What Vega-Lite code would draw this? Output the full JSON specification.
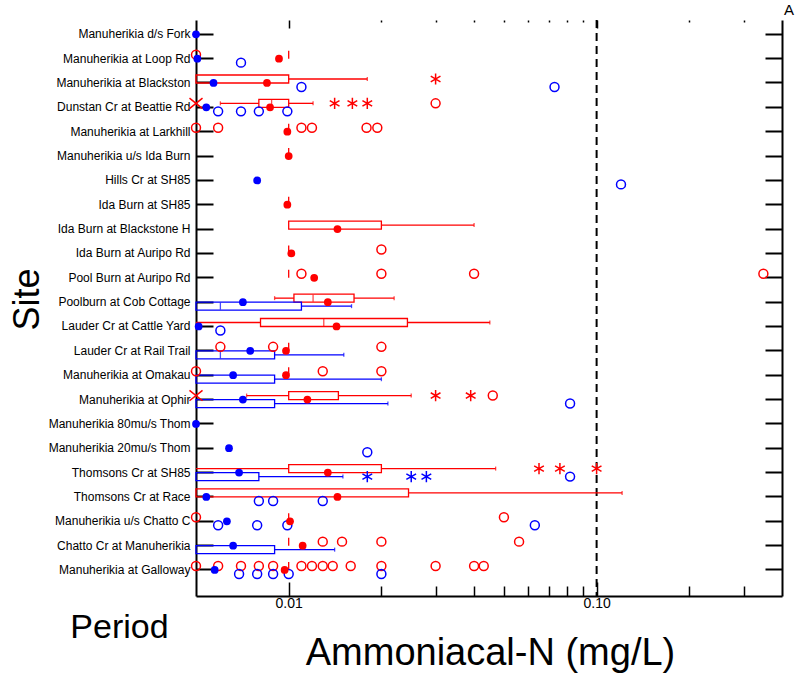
{
"$schema": "https://vega.github.io/schema/vega-lite/v6.json",
"width": 586, "height": 576,
"autosize": "none",
"padding": {"left": 196, "top": 20, "right": 13, "bottom": 79},
"title": {"text": "A", "anchor": "end", "dx": 11, "dy": 15, "offset": 1, "baseline": "bottom", "fontSize": 15, "fontWeight": "normal", "font": "Liberation Sans", "color": "black"},
"config": {"view": {"stroke": null}, "font": "Liberation Sans", "axis": {"grid": false, "domainColor": "black", "tickColor": "black", "labelColor": "black", "titleColor": "black", "zindex": 1}},
"datasets": {
"boxes": [
{"site": "Manuherikia at Loop Rd", "period": "P1", "low": 0.01, "q1": 0.01, "med": null, "q3": 0.01, "high": 0.01},
{"site": "Manuherikia at Blackston", "period": "P1", "low": 0.005, "q1": 0.005, "med": null, "q3": 0.01, "high": 0.018},
{"site": "Dunstan Cr at Beattie Rd", "period": "P1", "low": 0.006, "q1": 0.008, "med": 0.0088, "q3": 0.01, "high": 0.012},
{"site": "Manuherikia at Larkhill", "period": "P1", "low": 0.01, "q1": 0.01, "med": null, "q3": 0.01, "high": 0.01},
{"site": "Manuherikia u/s Ida Burn", "period": "P1", "low": 0.01, "q1": 0.01, "med": null, "q3": 0.01, "high": 0.01},
{"site": "Ida Burn at SH85", "period": "P1", "low": 0.01, "q1": 0.01, "med": null, "q3": 0.01, "high": 0.01},
{"site": "Ida Burn at Blackstone H", "period": "P1", "low": 0.01, "q1": 0.01, "med": null, "q3": 0.02, "high": 0.04},
{"site": "Ida Burn at Auripo Rd", "period": "P1", "low": 0.01, "q1": 0.01, "med": null, "q3": 0.01, "high": 0.01},
{"site": "Pool Burn at Auripo Rd", "period": "P1", "low": 0.01, "q1": 0.01, "med": null, "q3": 0.01, "high": 0.01},
{"site": "Poolburn at Cob Cottage", "period": "P1", "low": 0.009, "q1": 0.0104, "med": 0.012, "q3": 0.0163, "high": 0.022},
{"site": "Poolburn at Cob Cottage", "period": "P2", "low": 0.005, "q1": 0.005, "med": 0.006, "q3": 0.011, "high": 0.016},
{"site": "Lauder Cr at Cattle Yard", "period": "P1", "low": 0.005, "q1": 0.0081, "med": 0.013, "q3": 0.0243, "high": 0.045},
{"site": "Lauder Cr at Rail Trail", "period": "P1", "low": 0.01, "q1": 0.01, "med": null, "q3": 0.01, "high": 0.01},
{"site": "Lauder Cr at Rail Trail", "period": "P2", "low": 0.005, "q1": 0.005, "med": 0.006, "q3": 0.009, "high": 0.0151},
{"site": "Manuherikia at Omakau", "period": "P1", "low": 0.01, "q1": 0.01, "med": null, "q3": 0.01, "high": 0.01},
{"site": "Manuherikia at Omakau", "period": "P2", "low": 0.005, "q1": 0.005, "med": null, "q3": 0.009, "high": 0.02},
{"site": "Manuherikia at Ophir", "period": "P1", "low": 0.0073, "q1": 0.01, "med": null, "q3": 0.0145, "high": 0.025},
{"site": "Manuherikia at Ophir", "period": "P2", "low": 0.005, "q1": 0.005, "med": null, "q3": 0.009, "high": 0.021},
{"site": "Thomsons Cr at SH85", "period": "P1", "low": 0.005, "q1": 0.01, "med": null, "q3": 0.02, "high": 0.047},
{"site": "Thomsons Cr at SH85", "period": "P2", "low": 0.005, "q1": 0.005, "med": null, "q3": 0.008, "high": 0.015},
{"site": "Thomsons Cr at Race", "period": "P1", "low": 0.005, "q1": 0.005, "med": null, "q3": 0.0245, "high": 0.121},
{"site": "Manuherikia u/s Chatto C", "period": "P1", "low": 0.01, "q1": 0.01, "med": null, "q3": 0.01, "high": 0.01},
{"site": "Chatto Cr at Manuherikia", "period": "P1", "low": 0.01, "q1": 0.01, "med": null, "q3": 0.01, "high": 0.01},
{"site": "Chatto Cr at Manuherikia", "period": "P2", "low": 0.005, "q1": 0.005, "med": null, "q3": 0.009, "high": 0.0141},
{"site": "Manuherikia at Galloway", "period": "P1", "low": 0.01, "q1": 0.01, "med": null, "q3": 0.01, "high": 0.01}
],
"means": [
{"site": "Manuherikia d/s Fork", "period": "P2", "value": 0.005},
{"site": "Manuherikia at Loop Rd", "period": "P1", "value": 0.0093},
{"site": "Manuherikia at Loop Rd", "period": "P2", "value": 0.00505},
{"site": "Manuherikia at Blackston", "period": "P1", "value": 0.0085},
{"site": "Manuherikia at Blackston", "period": "P2", "value": 0.0057},
{"site": "Dunstan Cr at Beattie Rd", "period": "P1", "value": 0.0087},
{"site": "Dunstan Cr at Beattie Rd", "period": "P2", "value": 0.0054},
{"site": "Manuherikia at Larkhill", "period": "P1", "value": 0.0099},
{"site": "Manuherikia u/s Ida Burn", "period": "P1", "value": 0.01},
{"site": "Hills Cr at SH85", "period": "P2", "value": 0.0079},
{"site": "Ida Burn at SH85", "period": "P1", "value": 0.0099},
{"site": "Ida Burn at Blackstone H", "period": "P1", "value": 0.0144},
{"site": "Ida Burn at Auripo Rd", "period": "P1", "value": 0.0102},
{"site": "Pool Burn at Auripo Rd", "period": "P1", "value": 0.0121},
{"site": "Poolburn at Cob Cottage", "period": "P1", "value": 0.0134},
{"site": "Poolburn at Cob Cottage", "period": "P2", "value": 0.0071},
{"site": "Lauder Cr at Cattle Yard", "period": "P1", "value": 0.0143},
{"site": "Lauder Cr at Cattle Yard", "period": "P2", "value": 0.0051},
{"site": "Lauder Cr at Rail Trail", "period": "P1", "value": 0.0098},
{"site": "Lauder Cr at Rail Trail", "period": "P2", "value": 0.0075},
{"site": "Manuherikia at Omakau", "period": "P1", "value": 0.0098},
{"site": "Manuherikia at Omakau", "period": "P2", "value": 0.0066},
{"site": "Manuherikia at Ophir", "period": "P1", "value": 0.0115},
{"site": "Manuherikia at Ophir", "period": "P2", "value": 0.0071},
{"site": "Manuherikia 80mu/s Thom", "period": "P2", "value": 0.005},
{"site": "Manuherikia 20mu/s Thom", "period": "P2", "value": 0.0064},
{"site": "Thomsons Cr at SH85", "period": "P1", "value": 0.0134},
{"site": "Thomsons Cr at SH85", "period": "P2", "value": 0.0069},
{"site": "Thomsons Cr at Race", "period": "P1", "value": 0.0144},
{"site": "Thomsons Cr at Race", "period": "P2", "value": 0.0054},
{"site": "Manuherikia u/s Chatto C", "period": "P1", "value": 0.0101},
{"site": "Manuherikia u/s Chatto C", "period": "P2", "value": 0.0063},
{"site": "Chatto Cr at Manuherikia", "period": "P1", "value": 0.0111},
{"site": "Chatto Cr at Manuherikia", "period": "P2", "value": 0.0066},
{"site": "Manuherikia at Galloway", "period": "P1", "value": 0.0097},
{"site": "Manuherikia at Galloway", "period": "P2", "value": 0.00575}
],
"points": [
{"site": "Manuherikia at Loop Rd", "period": "P1", "value": 0.005, "kind": "o"},
{"site": "Manuherikia at Loop Rd", "period": "P2", "value": 0.007, "kind": "o"},
{"site": "Manuherikia at Blackston", "period": "P1", "value": 0.03, "kind": "e"},
{"site": "Manuherikia at Blackston", "period": "P2", "value": 0.011, "kind": "o"},
{"site": "Manuherikia at Blackston", "period": "P2", "value": 0.073, "kind": "o"},
{"site": "Dunstan Cr at Beattie Rd", "period": "P1", "value": 0.005, "kind": "b"},
{"site": "Dunstan Cr at Beattie Rd", "period": "P1", "value": 0.0141, "kind": "e"},
{"site": "Dunstan Cr at Beattie Rd", "period": "P1", "value": 0.0161, "kind": "e"},
{"site": "Dunstan Cr at Beattie Rd", "period": "P1", "value": 0.018, "kind": "e"},
{"site": "Dunstan Cr at Beattie Rd", "period": "P1", "value": 0.03, "kind": "o"},
{"site": "Dunstan Cr at Beattie Rd", "period": "P2", "value": 0.0059, "kind": "o"},
{"site": "Dunstan Cr at Beattie Rd", "period": "P2", "value": 0.007, "kind": "o"},
{"site": "Dunstan Cr at Beattie Rd", "period": "P2", "value": 0.008, "kind": "o"},
{"site": "Dunstan Cr at Beattie Rd", "period": "P2", "value": 0.0099, "kind": "o"},
{"site": "Manuherikia at Larkhill", "period": "P1", "value": 0.005, "kind": "o"},
{"site": "Manuherikia at Larkhill", "period": "P1", "value": 0.0059, "kind": "o"},
{"site": "Manuherikia at Larkhill", "period": "P1", "value": 0.011, "kind": "o"},
{"site": "Manuherikia at Larkhill", "period": "P1", "value": 0.0119, "kind": "o"},
{"site": "Manuherikia at Larkhill", "period": "P1", "value": 0.0179, "kind": "o"},
{"site": "Manuherikia at Larkhill", "period": "P1", "value": 0.0194, "kind": "o"},
{"site": "Hills Cr at SH85", "period": "P2", "value": 0.12, "kind": "o"},
{"site": "Ida Burn at Auripo Rd", "period": "P1", "value": 0.02, "kind": "o"},
{"site": "Pool Burn at Auripo Rd", "period": "P1", "value": 0.011, "kind": "o"},
{"site": "Pool Burn at Auripo Rd", "period": "P1", "value": 0.02, "kind": "o"},
{"site": "Pool Burn at Auripo Rd", "period": "P1", "value": 0.04, "kind": "o"},
{"site": "Pool Burn at Auripo Rd", "period": "P1", "value": 0.348, "kind": "o"},
{"site": "Lauder Cr at Cattle Yard", "period": "P2", "value": 0.006, "kind": "o"},
{"site": "Lauder Cr at Rail Trail", "period": "P1", "value": 0.006, "kind": "o"},
{"site": "Lauder Cr at Rail Trail", "period": "P1", "value": 0.0089, "kind": "o"},
{"site": "Lauder Cr at Rail Trail", "period": "P1", "value": 0.02, "kind": "o"},
{"site": "Manuherikia at Omakau", "period": "P1", "value": 0.005, "kind": "o"},
{"site": "Manuherikia at Omakau", "period": "P1", "value": 0.0129, "kind": "o"},
{"site": "Manuherikia at Omakau", "period": "P1", "value": 0.02, "kind": "o"},
{"site": "Manuherikia at Ophir", "period": "P1", "value": 0.005, "kind": "b"},
{"site": "Manuherikia at Ophir", "period": "P1", "value": 0.03, "kind": "e"},
{"site": "Manuherikia at Ophir", "period": "P1", "value": 0.039, "kind": "e"},
{"site": "Manuherikia at Ophir", "period": "P1", "value": 0.046, "kind": "o"},
{"site": "Manuherikia at Ophir", "period": "P2", "value": 0.082, "kind": "o"},
{"site": "Manuherikia 20mu/s Thom", "period": "P2", "value": 0.018, "kind": "o"},
{"site": "Thomsons Cr at SH85", "period": "P1", "value": 0.065, "kind": "e"},
{"site": "Thomsons Cr at SH85", "period": "P1", "value": 0.076, "kind": "e"},
{"site": "Thomsons Cr at SH85", "period": "P1", "value": 0.1, "kind": "e"},
{"site": "Thomsons Cr at SH85", "period": "P2", "value": 0.018, "kind": "e"},
{"site": "Thomsons Cr at SH85", "period": "P2", "value": 0.025, "kind": "e"},
{"site": "Thomsons Cr at SH85", "period": "P2", "value": 0.028, "kind": "e"},
{"site": "Thomsons Cr at SH85", "period": "P2", "value": 0.082, "kind": "o"},
{"site": "Thomsons Cr at Race", "period": "P2", "value": 0.008, "kind": "o"},
{"site": "Thomsons Cr at Race", "period": "P2", "value": 0.0089, "kind": "o"},
{"site": "Thomsons Cr at Race", "period": "P2", "value": 0.0129, "kind": "o"},
{"site": "Manuherikia u/s Chatto C", "period": "P1", "value": 0.005, "kind": "o"},
{"site": "Manuherikia u/s Chatto C", "period": "P1", "value": 0.05, "kind": "o"},
{"site": "Manuherikia u/s Chatto C", "period": "P2", "value": 0.0059, "kind": "o"},
{"site": "Manuherikia u/s Chatto C", "period": "P2", "value": 0.0079, "kind": "o"},
{"site": "Manuherikia u/s Chatto C", "period": "P2", "value": 0.0099, "kind": "o"},
{"site": "Manuherikia u/s Chatto C", "period": "P2", "value": 0.063, "kind": "o"},
{"site": "Chatto Cr at Manuherikia", "period": "P1", "value": 0.0129, "kind": "o"},
{"site": "Chatto Cr at Manuherikia", "period": "P1", "value": 0.0149, "kind": "o"},
{"site": "Chatto Cr at Manuherikia", "period": "P1", "value": 0.02, "kind": "o"},
{"site": "Chatto Cr at Manuherikia", "period": "P1", "value": 0.056, "kind": "o"},
{"site": "Manuherikia at Galloway", "period": "P1", "value": 0.005, "kind": "o"},
{"site": "Manuherikia at Galloway", "period": "P1", "value": 0.0059, "kind": "o"},
{"site": "Manuherikia at Galloway", "period": "P1", "value": 0.007, "kind": "o"},
{"site": "Manuherikia at Galloway", "period": "P1", "value": 0.008, "kind": "o"},
{"site": "Manuherikia at Galloway", "period": "P1", "value": 0.0089, "kind": "o"},
{"site": "Manuherikia at Galloway", "period": "P1", "value": 0.011, "kind": "o"},
{"site": "Manuherikia at Galloway", "period": "P1", "value": 0.0119, "kind": "o"},
{"site": "Manuherikia at Galloway", "period": "P1", "value": 0.0129, "kind": "o"},
{"site": "Manuherikia at Galloway", "period": "P1", "value": 0.0139, "kind": "o"},
{"site": "Manuherikia at Galloway", "period": "P1", "value": 0.0159, "kind": "o"},
{"site": "Manuherikia at Galloway", "period": "P1", "value": 0.02, "kind": "o"},
{"site": "Manuherikia at Galloway", "period": "P1", "value": 0.03, "kind": "o"},
{"site": "Manuherikia at Galloway", "period": "P1", "value": 0.04, "kind": "o"},
{"site": "Manuherikia at Galloway", "period": "P1", "value": 0.043, "kind": "o"},
{"site": "Manuherikia at Galloway", "period": "P2", "value": 0.0069, "kind": "o"},
{"site": "Manuherikia at Galloway", "period": "P2", "value": 0.0079, "kind": "o"},
{"site": "Manuherikia at Galloway", "period": "P2", "value": 0.0089, "kind": "o"},
{"site": "Manuherikia at Galloway", "period": "P2", "value": 0.01, "kind": "o"},
{"site": "Manuherikia at Galloway", "period": "P2", "value": 0.02, "kind": "o"}
]
},
"layer": [
{"data": {"values": [{"ref": 0.1}]},
 "mark": {"type": "rule", "strokeDash": [8, 5], "strokeWidth": 2, "color": "black"},
 "encoding": {"x": {"field": "ref", "type": "quantitative", "scale": {"type": "log", "domain": [0.005, 0.4], "nice": false},
   "axis": {"orient": "bottom", "values": [0.01, 0.02, 0.03, 0.04, 0.05, 0.06, 0.07, 0.08, 0.09, 0.1, 0.2, 0.3],
     "tickSize": {"condition": {"test": "datum.value == 0.01 || datum.value == 0.1", "value": -14}, "value": -10},
     "tickWidth": 1.5, "domainWidth": 2,
     "labelExpr": "datum.value == 0.01 ? '0.01' : (datum.value == 0.1 ? '0.10' : '')",
     "labelFontSize": 14, "labelPadding": 14, "labelFlush": false, "labelOverlap": false,
     "title": "Ammoniacal-N (mg/L)", "titleFontSize": 38, "titleFontWeight": "normal", "titleX": 294, "titleY": 68, "titleAlign": "center", "titleBaseline": "alphabetic"}}}},
{"data": {"name": "boxes"},
 "mark": {"type": "rule", "strokeWidth": 1.3},
 "encoding": {
   "x": {"field": "low", "type": "quantitative", "scale": {"type": "log", "domain": [0.005, 0.4], "nice": false}, "axis": null},
   "x2": {"field": "q1"},
   "y": {"field": "site", "type": "nominal", "scale": {"domain": ["Manuherikia d/s Fork", "Manuherikia at Loop Rd", "Manuherikia at Blackston", "Dunstan Cr at Beattie Rd", "Manuherikia at Larkhill", "Manuherikia u/s Ida Burn", "Hills Cr at SH85", "Ida Burn at SH85", "Ida Burn at Blackstone H", "Ida Burn at Auripo Rd", "Pool Burn at Auripo Rd", "Poolburn at Cob Cottage", "Lauder Cr at Cattle Yard", "Lauder Cr at Rail Trail", "Manuherikia at Omakau", "Manuherikia at Ophir", "Manuherikia 80mu/s Thom", "Manuherikia 20mu/s Thom", "Thomsons Cr at SH85", "Thomsons Cr at Race", "Manuherikia u/s Chatto C", "Chatto Cr at Manuherikia", "Manuherikia at Galloway"], "paddingInner": 0, "paddingOuter": 0.3275, "align": 0.133},
     "axis": {"orient": "left", "title": "Site", "titleFontSize": 36, "titleFontWeight": "normal", "titleX": -169, "titleY": 279, "titleAngle": -90, "titleAlign": "center", "titleBaseline": "middle",
       "labelFontSize": 12, "labelFont": "Liberation Sans", "labelPadding": 23, "labelLimit": 300, "tickSize": -17, "tickWidth": 2, "domainWidth": 2}},
   "yOffset": {"field": "period", "type": "nominal", "scale": {"domain": ["P1", "P2"], "paddingInner": 0, "paddingOuter": 0.52}},
   "color": {"field": "period", "type": "nominal", "scale": {"domain": ["P1", "P2"], "range": ["#ff0000", "#0000ff"]}, "legend": null}}},
{"data": {"name": "boxes"},
 "mark": {"type": "rule", "strokeWidth": 1.3},
 "encoding": {
   "x": {"field": "q3", "type": "quantitative",
     "axis": {"orient": "top", "values": [0.01, 0.02, 0.03, 0.04, 0.05, 0.06, 0.07, 0.08, 0.09, 0.1, 0.2, 0.3], "labels": false, "domain": false,
       "tickSize": {"condition": {"test": "datum.value == 0.01 || datum.value == 0.1", "value": -8}, "value": -2}, "tickWidth": 1.5,
       "title": "Period", "titleFontSize": 34, "titleFontWeight": "normal", "titleX": -77, "titleY": 617, "titleAlign": "center", "titleBaseline": "alphabetic"}},
   "x2": {"field": "high"},
   "y": {"field": "site", "type": "nominal", "axis": {"orient": "right", "labels": false, "title": null, "tickSize": -17, "tickWidth": 2, "domainWidth": 2}},
   "yOffset": {"field": "period", "type": "nominal"},
   "color": {"field": "period", "type": "nominal", "legend": null}}},
{"data": {"name": "boxes"},
 "transform": [{"filter": "datum.high > datum.q3"}],
 "mark": {"type": "tick", "size": 4, "thickness": 1.3},
 "encoding": {
   "x": {"field": "high", "type": "quantitative", "axis": null},
   "y": {"field": "site", "type": "nominal", "axis": null},
   "yOffset": {"field": "period", "type": "nominal"},
   "color": {"field": "period", "type": "nominal", "legend": null}}},
{"data": {"name": "boxes"},
 "transform": [{"filter": "datum.low < datum.q1 && datum.low > 0.0051"}],
 "mark": {"type": "tick", "size": 4, "thickness": 1.3},
 "encoding": {
   "x": {"field": "low", "type": "quantitative", "axis": null},
   "y": {"field": "site", "type": "nominal", "axis": null},
   "yOffset": {"field": "period", "type": "nominal"},
   "color": {"field": "period", "type": "nominal", "legend": null}}},
{"data": {"name": "boxes"},
 "mark": {"type": "bar", "filled": false, "strokeWidth": 1.3},
 "encoding": {
   "x": {"field": "q1", "type": "quantitative", "axis": null},
   "x2": {"field": "q3"},
   "y": {"field": "site", "type": "nominal", "axis": null},
   "yOffset": {"field": "period", "type": "nominal"},
   "color": {"field": "period", "type": "nominal", "legend": null}}},
{"data": {"name": "boxes"},
 "transform": [{"filter": "isValid(datum.med)"}],
 "mark": {"type": "tick", "size": 7, "thickness": 1.3},
 "encoding": {
   "x": {"field": "med", "type": "quantitative", "axis": null},
   "y": {"field": "site", "type": "nominal", "axis": null},
   "yOffset": {"field": "period", "type": "nominal"},
   "color": {"field": "period", "type": "nominal", "legend": null}}},
{"data": {"name": "points"},
 "mark": {"type": "point", "filled": false, "strokeWidth": 1.5, "opacity": 1},
 "encoding": {
   "x": {"field": "value", "type": "quantitative", "axis": null},
   "y": {"field": "site", "type": "nominal", "axis": null},
   "yOffset": {"field": "period", "type": "nominal"},
   "color": {"field": "period", "type": "nominal", "legend": null},
   "shape": {"field": "kind", "type": "nominal", "scale": {"domain": ["o", "e", "b"], "range": ["circle", "M0,-1L0,1M-0.87,-0.5L0.87,0.5M-0.87,0.5L0.87,-0.5", "M-1,-0.8L1,0.8M-1,0.8L1,-0.8"]}, "legend": null},
   "size": {"field": "kind", "type": "nominal", "scale": {"domain": ["o", "e", "b"], "range": [80, 170, 60]}, "legend": null}}},
{"data": {"name": "means"},
 "mark": {"type": "circle", "size": 60, "opacity": 1},
 "encoding": {
   "x": {"field": "value", "type": "quantitative", "axis": null},
   "y": {"field": "site", "type": "nominal", "axis": null},
   "color": {"field": "period", "type": "nominal", "legend": null}}}
],
"resolve": {"axis": {"x": "independent", "y": "independent"}}
}
